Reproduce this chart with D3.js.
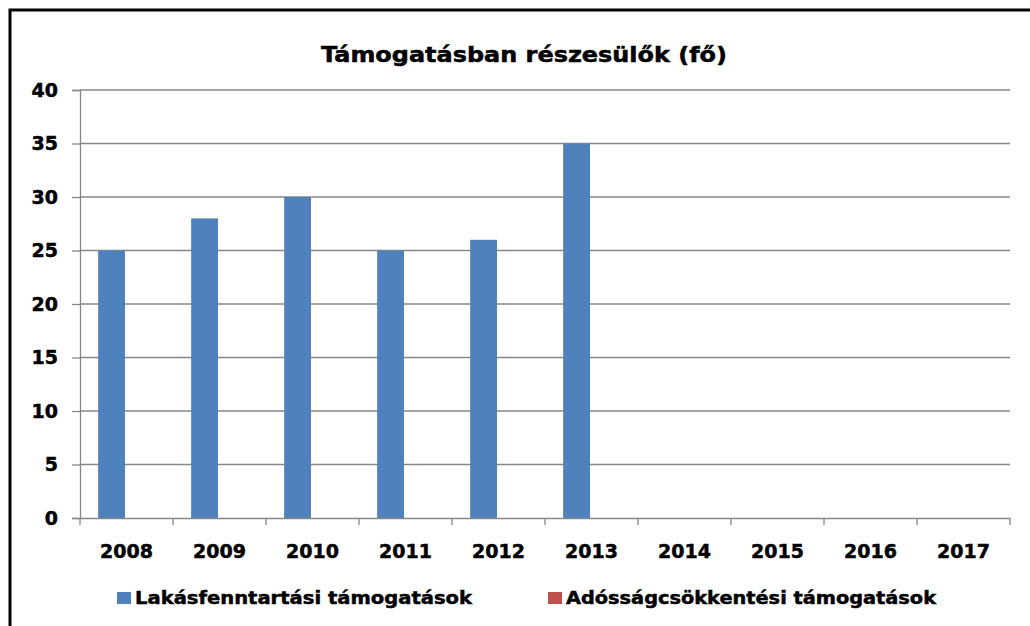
<!DOCTYPE html>
<html><head><meta charset="utf-8">
<script src="https://cdn.jsdelivr.net/npm/d3@7"></script>
<style>body{margin:0;background:#fff}svg{display:block}</style>
</head><body>
<script>
const years = ["2008","2009","2010","2011","2012","2013","2014","2015","2016","2017"];
const lakas = [25, 28, 30, 25, 26, 35, null, null, null, null];
const adossag = [null, null, null, null, null, null, null, null, null, null];
const seriesNames = ["Lakásfenntartási támogatások", "Adósságcsökkentési támogatások"];
const seriesColors = ["#4F81BD", "#C0504D"];
const yTicks = [0, 5, 10, 15, 20, 25, 30, 35, 40];
const title = "Támogatásban részesülők (fő)";

const W = 1030, H = 626;
const svg = d3.select("body").append("svg").attr("width", W).attr("height", H);
const font = "DejaVu Sans, Verdana, sans-serif";

svg.append("rect").attr("x", 10).attr("y", 10).attr("width", W + 20).attr("height", H + 20)
  .attr("fill", "#fff").attr("stroke", "#000").attr("stroke-width", 3);

const x = d3.scaleBand().domain(years).range([80, 1010]).padding(0);
const xs = d3.scaleBand().domain([0, 1]).range([0, x.bandwidth()]).paddingInner(0).paddingOuter(0.7);
const y = d3.scaleLinear().domain([0, 40]).range([518, 90]);

// gridlines
svg.append("g").selectAll("line").data(yTicks.filter(d => d > 0)).join("line")
  .attr("x1", 80).attr("x2", 1010).attr("y1", d => y(d)).attr("y2", d => y(d))
  .attr("stroke", "#878787").attr("stroke-width", 1.3);

// bars
const series = [lakas, adossag];
series.forEach((vals, si) => {
  svg.append("g").selectAll("rect").data(vals.map((v, i) => ({v, year: years[i]})).filter(d => d.v != null && d.v > 0))
    .join("rect")
    .attr("x", d => x(d.year) + xs(si) - 1)
    .attr("width", xs.bandwidth() - 0.5)
    .attr("y", d => y(d.v))
    .attr("height", d => y(0) - y(d.v))
    .attr("fill", seriesColors[si]);
});

const heavy = sel => sel.attr("stroke", "#000").attr("stroke-width", 0.5);

// y axis
const ya = svg.append("g").attr("transform", "translate(80,0)")
  .call(d3.axisLeft(y).tickValues(yTicks).tickSize(8).tickPadding(14));
ya.select(".domain").attr("stroke", "#878787").attr("stroke-width", 1.3);
ya.selectAll(".tick line").attr("stroke", "#878787").attr("stroke-width", 1.3);
ya.selectAll(".tick text").attr("font-family", font).attr("font-weight", "bold")
  .attr("font-size", 19).attr("fill", "#000").call(heavy);

// x axis
const xa = svg.append("g").attr("transform", "translate(0,518)")
  .call(d3.axisBottom(x).tickSize(0).tickPadding(27));
xa.select(".domain").attr("stroke", "#878787").attr("stroke-width", 1.3);
xa.selectAll(".tick text").attr("font-family", font).attr("font-weight", "bold")
  .attr("font-size", 19).attr("fill", "#000").call(heavy);
const bounds = years.map(d => x(d)).concat([x.range()[1]]);
xa.append("g").selectAll("line").data(bounds).join("line")
  .attr("x1", d => d).attr("x2", d => d).attr("y1", 0).attr("y2", 7)
  .attr("stroke", "#878787").attr("stroke-width", 1.3);

// title
svg.append("text").attr("x", 524).attr("y", 62).attr("text-anchor", "middle")
  .attr("font-family", font).attr("font-weight", "bold").attr("font-size", 21)
  .attr("textLength", 406).attr("lengthAdjust", "spacingAndGlyphs")
  .call(heavy).text(title);

// legend
const legX = [117, 548];
const legW = [337, 370];
seriesNames.forEach((n, i) => {
  const g = svg.append("g");
  g.append("rect").attr("x", legX[i]).attr("y", 592).attr("width", 14).attr("height", 12).attr("fill", seriesColors[i]);
  g.append("text").attr("x", legX[i] + 18).attr("y", 604)
    .attr("font-family", font).attr("font-weight", "bold").attr("font-size", 18)
    .attr("textLength", legW[i]).attr("lengthAdjust", "spacingAndGlyphs")
    .call(heavy).text(n);
});
</script>
</body></html>
